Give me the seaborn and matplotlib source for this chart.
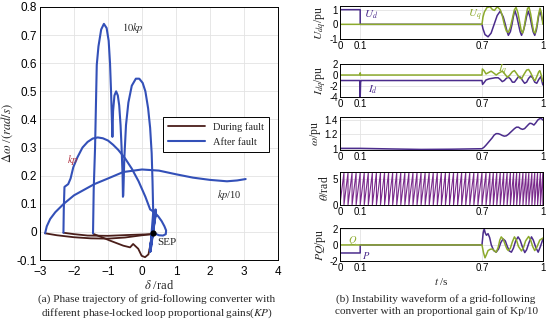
import numpy as np
import matplotlib
matplotlib.use("Agg")
import matplotlib.pyplot as plt
import seaborn as sns
from matplotlib.ticker import FuncFormatter

# ---------------- phase trajectory data (delta [rad], d_omega [rad/s]) ----------------
# after fault
kp10_d = [-2.85, -2.8, -2.7, -2.55, -2.3, -2.0, -1.7, -1.4, -1.0, -0.55, 0.0, 0.5, 1.0, 1.5, 2.0, 2.5, 2.8, 3.05]
kp10_w = [-0.005, 0.02, 0.046, 0.07, 0.1, 0.13, 0.15, 0.17, 0.19, 0.213, 0.222, 0.218, 0.205, 0.193, 0.185, 0.18, 0.183, 0.188]

kp_d = [-2.31, -2.3, -2.28, -2.17, -2.1, -2.02, -1.9, -1.75, -1.6, -1.45, -1.3, -1.15, -1.0, -0.85, -0.7,
        -0.5, -0.3, -0.1, 0.1, 0.24, 0.3, 0.38, 0.48, 0.58, 0.66, 0.71, 0.7, 0.62, 0.5, 0.4]
kp_w = [-0.003, 0.08, 0.16, 0.17, 0.19, 0.23, 0.265, 0.3, 0.32, 0.332, 0.336, 0.333, 0.325, 0.31, 0.292,
        0.262, 0.225, 0.18, 0.125, 0.08, 0.075, 0.068, 0.055, 0.038, 0.02, 0.005, -0.008, -0.013, -0.012, -0.007]

kp100_d = [-1.44, -1.42, -1.38, -1.33, -1.28, -1.2, -1.12, -1.04, -0.98, -0.94, -0.91, -0.87,
           -0.85, -0.81, -0.76, -0.71, -0.67, -0.63, -0.6, -0.57, -0.56,
           -0.55, -0.52, -0.47, -0.4, -0.3, -0.18, -0.08, 0.02, 0.1, 0.18, 0.24, 0.285, 0.31, 0.33]
kp100_w = [-0.005, 0.15, 0.3, 0.594, 0.66, 0.72, 0.74, 0.725, 0.68, 0.6, 0.5, 0.338,
           0.43, 0.485, 0.5, 0.485, 0.45, 0.38, 0.3, 0.2, 0.125,
           0.13, 0.26, 0.38, 0.46, 0.52, 0.545, 0.545, 0.53, 0.5, 0.44, 0.37, 0.28, 0.18, 0.07]

# dense oscillation around the stable equilibrium point
sep_d = [0.33, 0.24, 0.40, 0.23, 0.41, 0.24, 0.39, 0.25, 0.40, 0.26, 0.38, 0.24, 0.37, 0.26, 0.36, 0.27, 0.35,
         0.28, 0.34, 0.30, 0.33]
sep_w = [0.07, -0.07, 0.08, -0.065, 0.075, -0.06, 0.07, -0.07, 0.06, -0.05, 0.065, -0.06, 0.05, -0.045, 0.04,
         -0.04, 0.03, -0.025, 0.02, -0.015, -0.005]
sep_pt = (0.33, -0.005)

# during fault
f_kp10_d = [0.3, 0.0, -0.5, -1.0, -1.5, -2.0, -2.5, -2.85]
f_kp10_w = [-0.008, -0.012, -0.02, -0.024, -0.023, -0.019, -0.012, -0.005]
f_kp_d = [0.3, -0.4, -1.0, -1.6, -2.0, -2.31]
f_kp_w = [-0.008, -0.011, -0.014, -0.013, -0.008, -0.003]
f_kp100_d = [0.29, 0.24, 0.19, 0.09, -0.01, -0.11, -0.26, -0.35, -0.55, -0.94, -1.2, -1.43]
f_kp100_w = [-0.01, -0.05, -0.08, -0.09, -0.085, -0.06, -0.043, -0.055, -0.049, -0.031, -0.018, -0.007]

# ---------------- time waveforms (kp/10) ----------------
ud_t = [0, 0.1, 0.1, 0.7, 0.705, 0.715, 0.73, 0.745, 0.76, 0.775, 0.79, 0.805, 0.815, 0.823, 0.83, 0.84,
        0.848, 0.855, 0.862, 0.872, 0.88, 0.888, 0.895, 0.905, 0.912, 0.92, 0.928, 0.937, 0.944, 0.952,
        0.96, 0.968, 0.973, 0.979, 0.985, 0.992, 1.0]
ud_v = [1.0, 1.0, 0.0, 0.0, -0.3, -0.7, -0.85, -0.6, 0.0, 0.6, 0.9, 0.5, 0.0, -0.45, -0.75, -0.5,
        0.0, 0.55, 0.95, 0.5, 0.0, -0.5, -0.75, -0.4, 0.0, 0.55, 0.9, 0.5, 0.0, -0.5,
        -0.75, -0.4, 0.0, 0.55, 0.9, 0.6, 0.2]
uq_t = [0, 0.7, 0.705, 0.712, 0.725, 0.74, 0.752, 0.762, 0.775, 0.79, 0.8, 0.81, 0.82, 0.83, 0.84, 0.85,
        0.86, 0.868, 0.877, 0.885, 0.893, 0.9, 0.908, 0.916, 0.925, 0.932, 0.94, 0.948, 0.955, 0.962,
        0.97, 0.978, 0.986, 0.993, 1.0]
uq_v = [0.0, 0.0, 0.5, 0.85, 1.15, 1.2, 1.0, 0.95, 1.2, 1.0, 0.6, 0.0, -0.45, -0.55, -0.2, 0.4,
        1.0, 1.15, 0.8, 0.2, -0.4, -0.6, -0.2, 0.5, 1.1, 1.15, 0.7, 0.0, -0.5, -0.6,
        -0.1, 0.6, 1.1, 0.8, 0.0]

id_t = [0, 0.098, 0.1, 0.102, 0.105, 0.7, 0.703, 0.71, 0.72, 0.735, 0.75, 0.765, 0.78, 0.79, 0.8, 0.81,
        0.82, 0.83, 0.84, 0.85, 0.86, 0.87, 0.88, 0.89, 0.9, 0.91, 0.92, 0.93, 0.94, 0.95, 0.96, 0.97,
        0.98, 0.99, 1.0]
id_v = [-1.0, -1.0, -4.0, -1.3, -1.0, -1.0, -1.7, -1.4, -0.9, -0.7, -0.6, -0.5, -0.5, -0.8, -1.2, -1.0,
        -0.6, -0.4, -0.7, -1.3, -1.3, -0.8, -0.3, -0.4, -1.0, -1.5, -1.3, -0.6, -0.2, -0.5, -1.3, -1.5,
        -0.8, -0.3, -1.8]
iq_t = [0, 0.098, 0.1, 0.102, 0.7, 0.702, 0.71, 0.72, 0.73, 0.745, 0.76, 0.77, 0.785, 0.8, 0.81, 0.825,
        0.835, 0.85, 0.86, 0.87, 0.885, 0.895, 0.905, 0.92, 0.93, 0.94, 0.955, 0.962, 0.97, 0.98, 0.985,
        0.992, 1.0]
iq_v = [0.0, 0.0, 0.4, 0.0, 0.0, 1.1, 0.8, 0.2, 0.4, 0.7, 0.3, 0.0, 0.4, 0.7, 0.3, -0.4,
        -0.1, 0.6, 0.8, 0.3, -0.5, -0.7, 0.0, 0.9, 1.0, 0.4, -0.8, -1.0, -0.3, 0.6, 0.8,
        0.0, -1.2]

w_t = [0, 0.1, 0.25, 0.4, 0.55, 0.7, 0.71, 0.72, 0.735, 0.75, 0.76, 0.77, 0.78, 0.79, 0.8, 0.81, 0.82,
       0.83, 0.845, 0.86, 0.87, 0.88, 0.89, 0.9, 0.91, 0.92, 0.93, 0.936, 0.945, 0.956, 0.965, 0.975,
       0.985, 0.993, 1.0]
w_v = [1.005, 1.005, 0.997, 0.99, 0.993, 1.0, 1.02, 1.05, 1.1, 1.15, 1.19, 1.21, 1.21, 1.2, 1.185, 1.175, 1.18,
       1.2, 1.24, 1.28, 1.30, 1.30, 1.28, 1.27, 1.28, 1.31, 1.34, 1.355, 1.35, 1.33, 1.36, 1.40,
       1.42, 1.42, 1.40]

# instants where the PLL phase wraps from 2*pi back to 0
theta_wrap = [0.02, 0.04, 0.06, 0.08, 0.10, 0.12, 0.14, 0.16, 0.18, 0.20, 0.22, 0.24, 0.26, 0.28, 0.30,
              0.32, 0.34, 0.36, 0.38, 0.40, 0.42, 0.44, 0.46, 0.48, 0.50, 0.52, 0.54, 0.56, 0.58, 0.60,
              0.62, 0.64, 0.66, 0.68, 0.70, 0.72, 0.739, 0.756, 0.773, 0.79, 0.807, 0.824, 0.84, 0.856,
              0.871, 0.886, 0.902, 0.917, 0.931, 0.946, 0.96, 0.974, 0.988, 1.0]

p_t = [0, 0.1, 0.1, 0.7, 0.706, 0.711, 0.716, 0.722, 0.73, 0.738, 0.746, 0.758, 0.77, 0.782, 0.793, 0.804,
       0.815, 0.825, 0.835, 0.845, 0.855, 0.866, 0.878, 0.888, 0.9, 0.911, 0.92, 0.932, 0.944, 0.953,
       0.965, 0.977, 0.988, 1.0]
p_v = [-1.0, -1.0, 0.0, 0.0, 1.5, 2.0, 1.5, 1.2, 1.4, 0.9, 0.0, -0.7, -0.9, -0.5, 0.3, 0.75,
       0.5, -0.2, -0.75, -0.9, -0.4, 0.5, 1.0, 0.6, -0.3, -0.95, -0.6, 0.3, 1.0, 0.6,
       -0.3, -0.9, -0.2, 0.7]
q_t = [0, 0.7, 0.708, 0.715, 0.722, 0.73, 0.74, 0.75, 0.76, 0.77, 0.78, 0.788, 0.795, 0.805, 0.815, 0.823,
       0.83, 0.84, 0.85, 0.86, 0.87, 0.88, 0.895, 0.905, 0.915, 0.93, 0.94, 0.95, 0.96, 0.97, 0.985, 1.0]
q_v = [0.0, 0.0, -1.0, -1.6, -1.2, -0.7, -0.55, -0.5, -0.7, -0.9, -0.3, 0.6, 1.0, 0.7, 0.0, -0.5,
       -0.7, -0.4, 0.4, 1.0, 0.6, -0.2, -0.75, -0.3, 0.5, 1.05, 0.6, -0.2, -0.7, -0.3, 0.6, 0.85]

# ---------------- style ----------------
sns.set_theme(style="whitegrid")
plt.rcParams["font.family"] = ["Liberation Sans", "DejaVu Sans"]
plt.rcParams["mathtext.fontset"] = "stix"
plt.rcParams["grid.color"] = "#e3e3e3"
plt.rcParams["grid.linewidth"] = 0.6
serif = ["Liberation Serif", "DejaVu Serif"]

BLUE = "#3350b8"
DARK = "#4a1e1a"
PURP = "#4b2c8c"
GREEN = "#8caa2c"
THETA = "#7a2a8c"

fig = plt.figure(figsize=(5.5, 3.3), dpi=100)


def frame(ax):
    for s in ax.spines.values():
        s.set_visible(True)
        s.set_color("black")
        s.set_linewidth(0.7)
    ax.tick_params(direction="in", length=2, width=0.6, pad=2, colors="black")


def num(v, _):
    return f"{v:g}"


# ---------------- (a) phase trajectory ----------------
ax = fig.add_axes([0.0727, 0.2121, 0.4327, 0.7667])
frame(ax)
for d, w in [(f_kp10_d, f_kp10_w), (f_kp_d, f_kp_w), (f_kp100_d, f_kp100_w)]:
    sns.lineplot(x=d, y=w, sort=False, estimator=None, color=DARK, lw=1.3, ax=ax)
for d, w in [(kp10_d, kp10_w), (kp_d, kp_w), (kp100_d, kp100_w), (sep_d, sep_w)]:
    sns.lineplot(x=d, y=w, sort=False, estimator=None, color=BLUE, lw=1.5, ax=ax)
ax.plot(*sep_pt, "o", color="black", ms=3.5)
ax.set_xlim(-3, 4)
ax.set_ylim(-0.1, 0.8)
ax.set_xticks(range(-3, 5))
ax.set_yticks([-0.1, 0, 0.1, 0.2, 0.3, 0.4, 0.5, 0.6, 0.7, 0.8])
ax.yaxis.set_major_formatter(FuncFormatter(num))
ax.tick_params(labelsize=8.5)
ax.tick_params(axis="x", pad=4)
ax.set_xlabel(r"$\delta$ /rad", family=serif, fontsize=9, labelpad=1)
ax.set_ylabel(r"$\Delta\omega$ /$(rad/s)$", family=serif, fontsize=9, labelpad=1)
ax.text(-0.6, 0.715, r"$10kp$", fontsize=7.5, family=serif)
ax.text(-2.2, 0.245, r"$kp$", fontsize=7.5, color="#b03040")
ax.text(2.2, 0.12, r"$kp$/10", fontsize=7.5, family=serif)
ax.text(0.45, -0.045, "SEP", fontsize=8, family=serif)
ax.plot([], [], color=DARK, lw=1.3, label="During fault")
ax.plot([], [], color=BLUE, lw=1.5, label="After fault")
leg = ax.legend(loc="upper right", bbox_to_anchor=(0.985, 0.585), prop={"family": serif, "size": 7.5},
                frameon=True, fancybox=False, edgecolor="black", framealpha=1, handlelength=3.5,
                borderpad=0.5, labelspacing=0.5)
leg.get_frame().set_linewidth(0.7)

# ---------------- (b) waveforms ----------------
panels = [
    (0.8818, [(ud_t, ud_v, PURP), (uq_t, uq_v, GREEN)], (-1, 1.25), [-1, 0, 1], r"$U_{dq}$/pu"),
    (0.706, [(id_t, id_v, PURP), (iq_t, iq_v, GREEN)], (-4, 2), [-4, -2, 0, 2], r"$I_{dq}$/pu"),
    (0.545, [(w_t, w_v, PURP)], (0.98, 1.44), [1, 1.2, 1.4], r"$\omega$/pu"),
    (0.379, [], (0, 6.4), [0, 5], r"$\theta$/rad"),
    (0.209, [(p_t, p_v, PURP), (q_t, q_v, GREEN)], (-2, 2.1), [-2, 0, 2], r"$PQ$/pu"),
]
axes = []
for bottom, series, ylim, yt, lab in panels:
    a = fig.add_axes([0.618, bottom, 0.369, 0.1])
    frame(a)
    for t, v, c in series:
        sns.lineplot(x=t, y=v, sort=False, estimator=None, color=c, lw=1.1, ax=a)
    a.set_xlim(0, 1)
    a.set_ylim(*ylim)
    a.set_xticks([0, 0.1, 0.7, 1])
    a.set_yticks(yt)
    a.xaxis.set_major_formatter(FuncFormatter(num))
    a.yaxis.set_major_formatter(FuncFormatter(num))
    a.tick_params(labelsize=7, pad=1.5)
    a.set_ylabel(lab, family=serif, fontsize=8.5, labelpad=1)
    axes.append(a)

# theta sawtooth built from the wrap instants
th_t = [0.0]
th_v = [0.0]
for tw in theta_wrap:
    th_t += [tw, tw]
    th_v += [2 * np.pi, 0.0]
sns.lineplot(x=th_t, y=th_v, sort=False, estimator=None, color=THETA, lw=0.8, ax=axes[3])

axes[0].text(0.12, 0.45, r"$U_d$", color=PURP, fontsize=8)
axes[0].text(0.63, 0.45, r"$U_q$", color=GREEN, fontsize=8)
axes[1].text(0.14, -3.2, r"$I_d$", color=PURP, fontsize=8)
axes[1].text(0.78, 0.4, r"$I_q$", color=GREEN, fontsize=8)
axes[4].text(0.04, 0.3, r"$Q$", color=GREEN, fontsize=7.5)
axes[4].text(0.11, -1.7, r"$P$", color=PURP, fontsize=7.5)
axes[4].set_xlabel(r"$t$ /s", family=serif, fontsize=8, labelpad=2)

# ---------------- captions ----------------
fig.text(0.285, 0.11, "(a) Phase trajectory of grid-following converter with\n"
         "different phase-locked loop proportional gains(" + r"$KP$" + ")",
         ha="center", va="top", family=serif, fontsize=8.1, linespacing=1.3)
fig.text(0.793, 0.11, "(b) Instability waveform of a grid-following\n"
         "converter with an proportional gain of Kp/10",
         ha="center", va="top", family=serif, fontsize=8.1, linespacing=1.3)

fig.savefig("out.png", dpi=100)
